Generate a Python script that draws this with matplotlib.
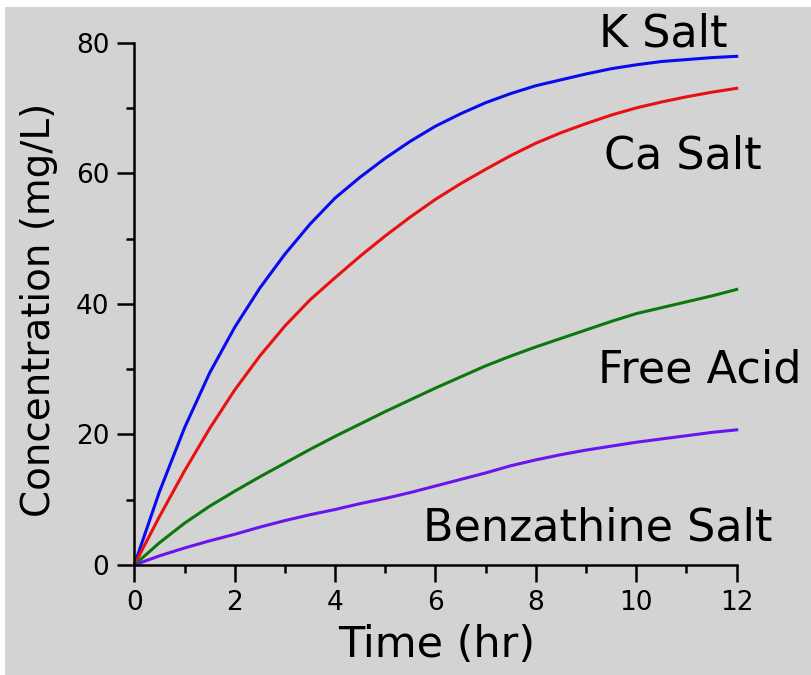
import numpy as np
import matplotlib.pyplot as plt
from matplotlib.patches import Rectangle
from matplotlib.ticker import MultipleLocator

# datos (cada media hora)
tiempo = np.arange(0, 12.5, 0.5)
k_salt = [0, 11.2, 21, 29.4, 36.4, 42.4, 47.6, 52.2, 56.2, 59.4, 62.3, 64.9, 67.2,
          69.1, 70.8, 72.2, 73.4, 74.3, 75.2, 76.0, 76.6, 77.1, 77.4, 77.7, 77.9]
ca_salt = [0, 7.4, 14.4, 20.9, 26.8, 32.0, 36.6, 40.6, 44.0, 47.3, 50.4, 53.3, 56.0,
           58.4, 60.6, 62.7, 64.6, 66.2, 67.6, 68.9, 70.0, 70.9, 71.7, 72.4, 73.0]
free_acid = [0, 3.4, 6.4, 9.0, 11.3, 13.5, 15.6, 17.7, 19.7, 21.6, 23.5, 25.3, 27.1,
             28.8, 30.5, 32.0, 33.4, 34.7, 36.0, 37.3, 38.5, 39.4, 40.3, 41.2, 42.2]
benzathine = [0, 1.4, 2.6, 3.7, 4.7, 5.8, 6.8, 7.7, 8.5, 9.4, 10.2, 11.1, 12.1,
              13.1, 14.1, 15.2, 16.1, 16.9, 17.6, 18.2, 18.8, 19.3, 19.8, 20.3, 20.7]

series = [k_salt, ca_salt, free_acid, benzathine]
colores = ['#0a0af0', '#e81010', '#0c780c', '#6a14f0']
etiquetas = ['K Salt', 'Ca Salt', 'Free Acid', 'Benzathine Salt']
pos_etiquetas = [(10.53, 79.4), (10.93, 60.7), (11.26, 27.9), (9.23, 3.8)]

plt.rcParams['font.family'] = ['DejaVu Sans']
gris = '#d3d3d3'

fig = plt.figure(figsize=(8.11, 6.75), dpi=100)
fig.patch.set_facecolor('white')
fig.patches.append(Rectangle((5 / 811, 0), 1, 1 - 7 / 675, transform=fig.transFigure,
                             facecolor=gris, edgecolor='none', zorder=-10))

ax = fig.add_axes([134.3 / 811, 110 / 675, 602.4 / 811, 522.4 / 675])
ax.set_facecolor(gris)

for y, c in zip(series, colores):
    ax.plot(tiempo, y, color=c, lw=2.2, clip_on=False)

for txt, (x, y) in zip(etiquetas, pos_etiquetas):
    ax.text(x, y, txt, fontsize=32, ha='center', va='baseline', clip_on=False)

ax.set_xlim(0, 12)
ax.set_ylim(0, 80)
ax.xaxis.set_major_locator(MultipleLocator(2))
ax.xaxis.set_minor_locator(MultipleLocator(1))
ax.yaxis.set_major_locator(MultipleLocator(20))
ax.yaxis.set_minor_locator(MultipleLocator(10))
for s in ['top', 'right']:
    ax.spines[s].set_visible(False)
for s in ['left', 'bottom']:
    ax.spines[s].set_linewidth(1.8)
ax.tick_params(which='major', length=12, width=1.8, labelsize=19, direction='out', pad=6)
ax.tick_params(which='minor', length=6, width=1.8, direction='out')

fig.text(437 / 811, (675 - 656.7) / 675, 'Time (hr)', fontsize=31, ha='center', va='baseline')
fig.text(50 / 811, (675 - 310) / 675, 'Concentration (mg/L)', fontsize=28, rotation=90,
         rotation_mode='anchor', ha='center', va='baseline')

fig.savefig('out.png', dpi=100, facecolor=fig.get_facecolor())
